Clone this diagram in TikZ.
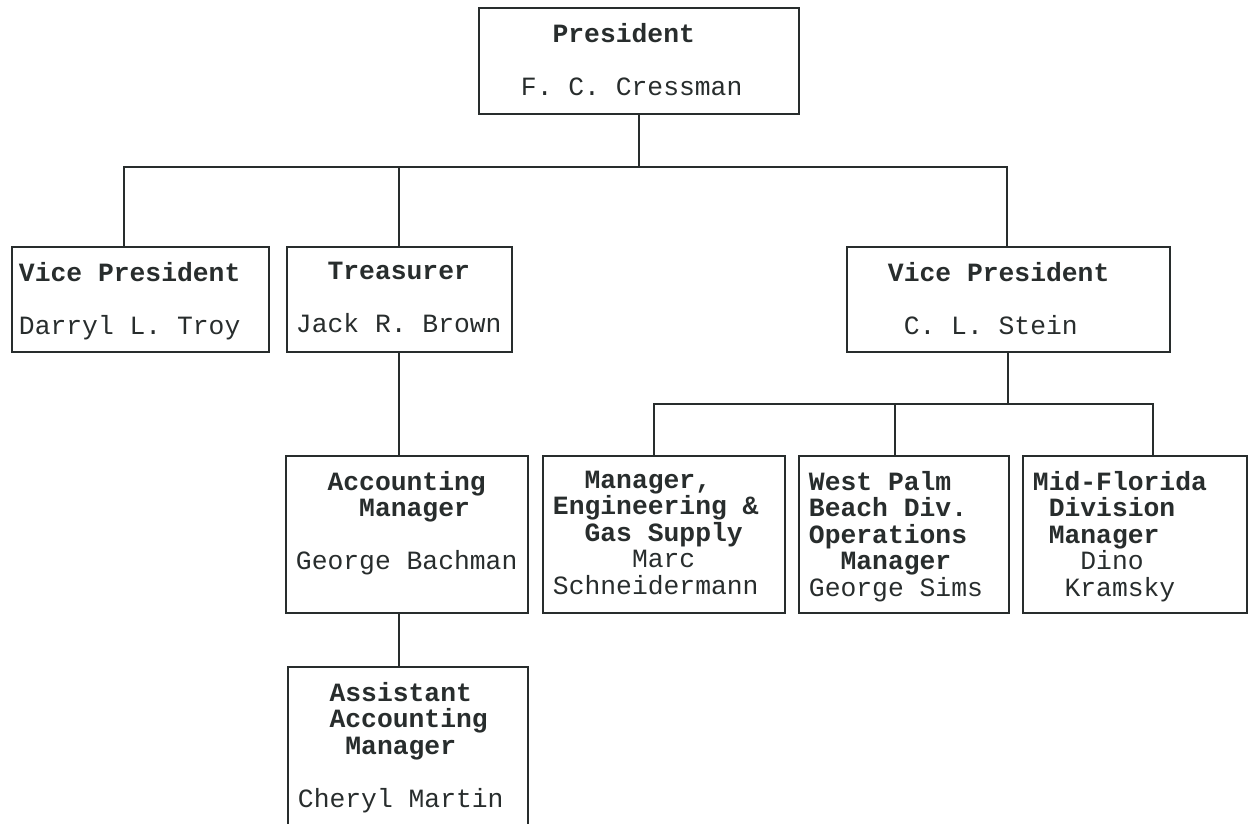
\documentclass[tikz,border=0pt]{standalone}
\usepackage{fontspec}
\setmonofont{Liberation Mono}
\usepackage{xcolor}
\usepackage{tikz}
\definecolor{ink}{RGB}{40,45,45}
\newcommand{\padchars}[1]{\hspace*{#1\dimexpr 0.6em\relax}}

\begin{document}
\begin{tikzpicture}[x=0.02cm,y=-0.02cm,color=ink,line width=1.1pt]
	\useasboundingbox[fill=white] (0,0) rectangle (1248,823);
	% boxes
	\begin{scope}[every node/.style={rectangle,draw,line width=1.1pt,anchor=north west,inner sep=0pt,minimum height=2.1cm}]
		\node[minimum width=6.40cm,minimum height=2.12cm] (P) at (478,7) {};
		\node[minimum width=5.14cm] (VL) at (11,246) {};
		\node[minimum width=4.50cm] (T) at (286,246) {};
		\node[minimum width=6.46cm] (VR) at (846,246) {};
		\node[minimum width=4.84cm,minimum height=3.14cm] (AM) at (285,455) {};
		\node[minimum width=4.84cm,minimum height=3.14cm] (ME) at (542,455) {};
		\node[minimum width=4.20cm,minimum height=3.14cm] (WP) at (798,455) {};
		\node[minimum width=4.48cm,minimum height=3.14cm] (MF) at (1022,455) {};
		\node[minimum width=4.80cm,minimum height=3.20cm] (AA) at (287,666) {};
	\end{scope}
	
	% texts
	\begin{scope}[every node/.style={anchor=north west,inner sep=0pt,align=left,
			font=\ttfamily\fontsize{15}{15.1}\selectfont}]
		\node (Pt) at (520,22) {\textbf{\padchars{2}President}\\[15.1pt]F. C. Cressman};
		\node (VLt) at (18,261) {\textbf{Vice President}\\[15.1pt]Darryl L. Troy};
		\node (Tt) at (295,261) {\textbf{\padchars{2}Treasurer}\\[15.1pt]Jack R. Brown};
		\node (VRt) at (887,261) {\textbf{Vice President}\\[15.1pt]\padchars{1}C. L. Stein};
		\node (AMt) at (295,470) {\textbf{\padchars{2}Accounting}\\\textbf{\padchars{4}Manager}\\[15.1pt]George Bachman};
		\node (MEt) at (552,470) {\textbf{\padchars{2}Manager,}\\\textbf{Engineering \&}\\\textbf{\padchars{2}Gas Supply}\\\padchars{5}Marc\\Schneidermann};
		\node (WPt) at (808,470) {\textbf{West Palm}\\\textbf{Beach Div.}\\\textbf{Operations}\\\textbf{\padchars{2}Manager}\\George Sims};
		\node (MFt) at (1032,470) {\textbf{Mid-Florida}\\\textbf{\padchars{1}Division}\\\textbf{\padchars{1}Manager}\\\padchars{3}Dino\\\padchars{2}Kramsky};
		\node (AAt) at (297,681) {\textbf{\padchars{2}Assistant}\\\textbf{\padchars{2}Accounting}\\\textbf{\padchars{3}Manager}\\[15.1pt]Cheryl Martin};
	\end{scope}
	
	% connectors
	\coordinate (bL) at (124,167);
	\coordinate (bR) at (1007,167);
	\coordinate (sL) at (654,404);
	\coordinate (sM) at (895,404);
	\coordinate (sR) at (1153,404);
	\draw (P.south) -- (P.south |- bL);
	\draw (bL |- VL.north) -- (bL) -- (bR) -- (bR |- VR.north);
	\draw (T.north) -- (T.north |- bL);
	\draw (T.south) -- (T.south |- AM.north);
	\draw (T.south |- AM.south) -- (T.south |- AA.north);
	\draw (VR.south) -- (VR.south |- sL);
	\draw (sL |- ME.north) -- (sL) -- (sR) -- (sR |- MF.north);
	\draw (sM) -- (sM |- WP.north);
\end{tikzpicture}
\end{document}
